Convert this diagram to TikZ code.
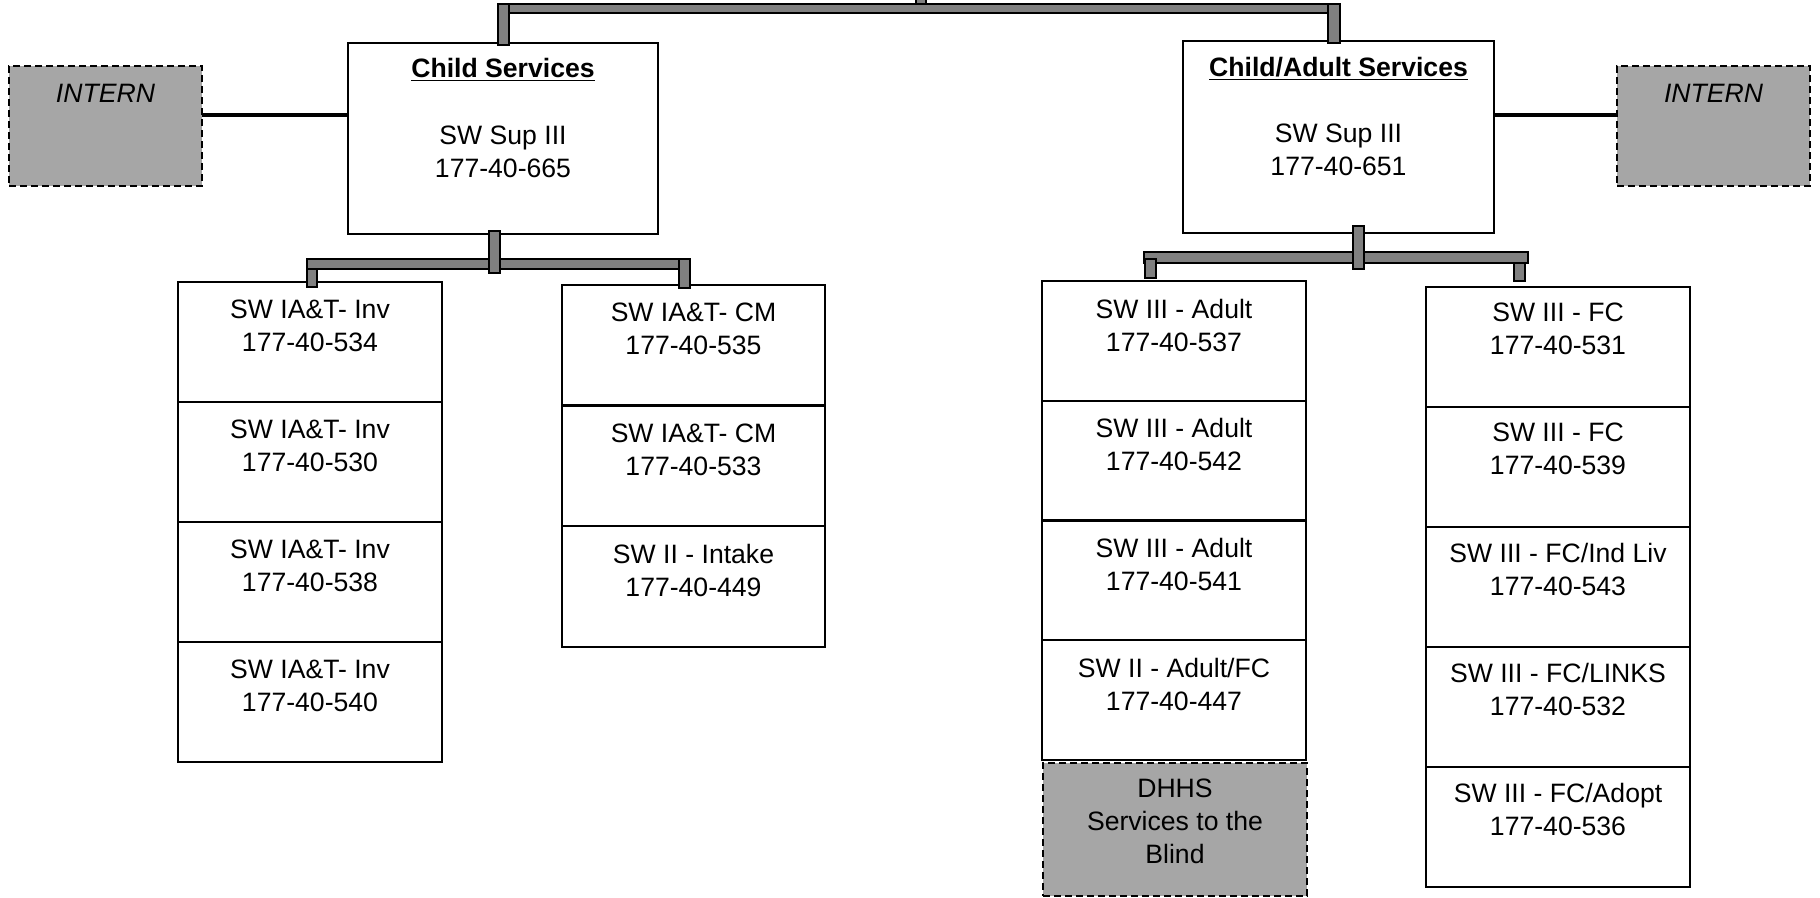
\documentclass[tikz,border=0pt]{standalone}
\usepackage{fontspec}
\setmainfont{Liberation Sans}
\usetikzlibrary{calc}
\definecolor{bargray}{HTML}{808080}
\definecolor{vacant}{HTML}{A6A6A6}

\begin{document}
\begin{tikzpicture}[x=0.5pt,y=-0.5pt,
  every node/.style={font=\fontsize{13.3pt}{16.5pt}\selectfont},
  box/.style={draw, line width=1pt, fill=white, inner sep=0pt, outer sep=0pt, anchor=north west},
  cell/.style={box, minimum width=132pt},
  vacantbox/.style={box, fill=vacant, dash pattern=on 3.5pt off 2pt},
  txt/.style={align=center, inner sep=0pt},
  bar/.style={draw, line width=1pt, fill=bargray},
  link/.style={line width=2pt}]

\useasboundingbox (0,0) rectangle (1820,898);

% ---------- supervisors ----------
\node[box, minimum width=155pt, minimum height=95.5pt] (cs) at (348,43) {};
\node[txt, anchor=base] (csT) at (503,77.5) {\textbf{\underline{Child Services}}};
\node[txt] (csB) at (503,151.5) {SW Sup III\\177-40-665};

\node[box, minimum width=155.5pt, minimum height=96pt] (ca) at (1183,41) {};
\node[txt, anchor=base] (caT) at (1338.5,76.5) {\textbf{\underline{Child/Adult Services}}};
\node[txt] (caB) at (1338.5,149.5) {SW Sup III\\177-40-651};

% ---------- interns ----------
\node[vacantbox, minimum width=96.5pt, minimum height=60pt] (inL) at (9,66) {};
\node[txt, anchor=base] (inLT) at (105.5,102.5) {\itshape INTERN};
\node[vacantbox, minimum width=96.5pt, minimum height=60pt] (inR) at (1617,66) {};
\node[txt, anchor=base] (inRT) at (1713.5,102.5) {\itshape INTERN};

\coordinate (lk) at (0,115);
\draw[link] (inL.east |- lk) -- (cs.west |- lk);
\draw[link] (ca.east |- lk) -- (inR.west |- lk);

% ---------- column 1 ----------
\node[cell, minimum height=60pt] (c1a) at (178,282) {};
\node[cell, minimum height=60pt] (c1b) at (c1a.south west) {};
\node[cell, minimum height=60pt] (c1c) at (c1b.south west) {};
\node[cell, minimum height=60pt] (c1d) at (c1c.south west) {};
\node[txt] (c1aT) at ([yshift=-22pt]c1a.north) {SW IA\&T- Inv\\177-40-534};
\node[txt] (c1bT) at ([yshift=-22pt]c1b.north) {SW IA\&T- Inv\\177-40-530};
\node[txt] (c1cT) at ([yshift=-22pt]c1c.north) {SW IA\&T- Inv\\177-40-538};
\node[txt] (c1dT) at ([yshift=-22pt]c1d.north) {SW IA\&T- Inv\\177-40-540};

% ---------- column 2 ----------
\node[cell, minimum width=131.5pt, minimum height=60.25pt] (c2a) at (562,285) {};
\node[cell, minimum width=131.5pt, minimum height=60.25pt] (c2b) at (c2a.south west) {};
\node[cell, minimum width=131.5pt, minimum height=60.25pt] (c2c) at (c2b.south west) {};
\draw[line width=1.5pt] (c2a.south west) -- (c2a.south east);
\node[txt] (c2aT) at ([yshift=-22pt]c2a.north) {SW IA\&T- CM\\177-40-535};
\node[txt] (c2bT) at ([yshift=-22pt]c2b.north) {SW IA\&T- CM\\177-40-533};
\node[txt] (c2cT) at ([yshift=-22pt]c2c.north) {SW II - Intake\\177-40-449};

% ---------- column 3 ----------
\node[cell, minimum height=59.875pt] (c3a) at (1042,281) {};
\node[cell, minimum height=59.875pt] (c3b) at (c3a.south west) {};
\node[cell, minimum height=59.875pt] (c3c) at (c3b.south west) {};
\node[cell, minimum height=59.875pt] (c3d) at (c3c.south west) {};
\draw[line width=1.5pt] (c3b.south west) -- (c3b.south east);
\node[txt] (c3aT) at ([yshift=-22pt]c3a.north) {SW III - Adult\\177-40-537};
\node[txt] (c3bT) at ([yshift=-22pt]c3b.north) {SW III - Adult\\177-40-542};
\node[txt] (c3cT) at ([yshift=-22pt]c3c.north) {SW III - Adult\\177-40-541};
\node[txt] (c3dT) at ([yshift=-22pt]c3d.north) {SW II - Adult/FC\\177-40-447};
\node[vacantbox, minimum width=132pt, minimum height=66.5pt] (dhhs) at (1043,763) {};
\node[txt] (dhhsT) at (1175,821) {DHHS\\Services to the\\Blind};

% ---------- column 4 ----------
\node[cell, minimum height=60pt] (c4a) at (1426,287) {};
\node[cell, minimum height=60pt] (c4b) at (c4a.south west) {};
\node[cell, minimum height=60pt] (c4c) at (c4b.south west) {};
\node[cell, minimum height=60pt] (c4d) at (c4c.south west) {};
\node[cell, minimum height=60pt] (c4e) at (c4d.south west) {};
\node[txt] (c4aT) at ([yshift=-21pt]c4a.north) {SW III - FC\\177-40-531};
\node[txt] (c4bT) at ([yshift=-21pt]c4b.north) {SW III - FC\\177-40-539};
\node[txt] (c4cT) at ([yshift=-21pt]c4c.north) {SW III - FC/Ind Liv\\177-40-543};
\node[txt] (c4dT) at ([yshift=-21pt]c4d.north) {SW III - FC/LINKS\\177-40-532};
\node[txt] (c4eT) at ([yshift=-21pt]c4e.north) {SW III - FC/Adopt\\177-40-536};

% ---------- reporting bars ----------
% top level
\draw[bar] (498,4) rectangle (1340,13);
\draw[bar] (916,-3) rectangle (926,4);
\draw[bar] (498,4) rectangle (509,45);
\draw[bar] (1328,4) rectangle (1340,43);
% child services branch
\draw[bar] (307,259) rectangle (690,269);
\draw[bar] (489,231) rectangle (500,273);
\draw[bar] (307,269) rectangle (317,287);
\draw[bar] (679,259) rectangle (690,288);
% child/adult services branch
\draw[bar] (1144,252) rectangle (1528,263);
\draw[bar] (1353,226) rectangle (1364,269);
\draw[bar] (1145,259) rectangle (1156,278);
\draw[bar] (1514,263) rectangle (1525,281);
\end{tikzpicture}
\end{document}
